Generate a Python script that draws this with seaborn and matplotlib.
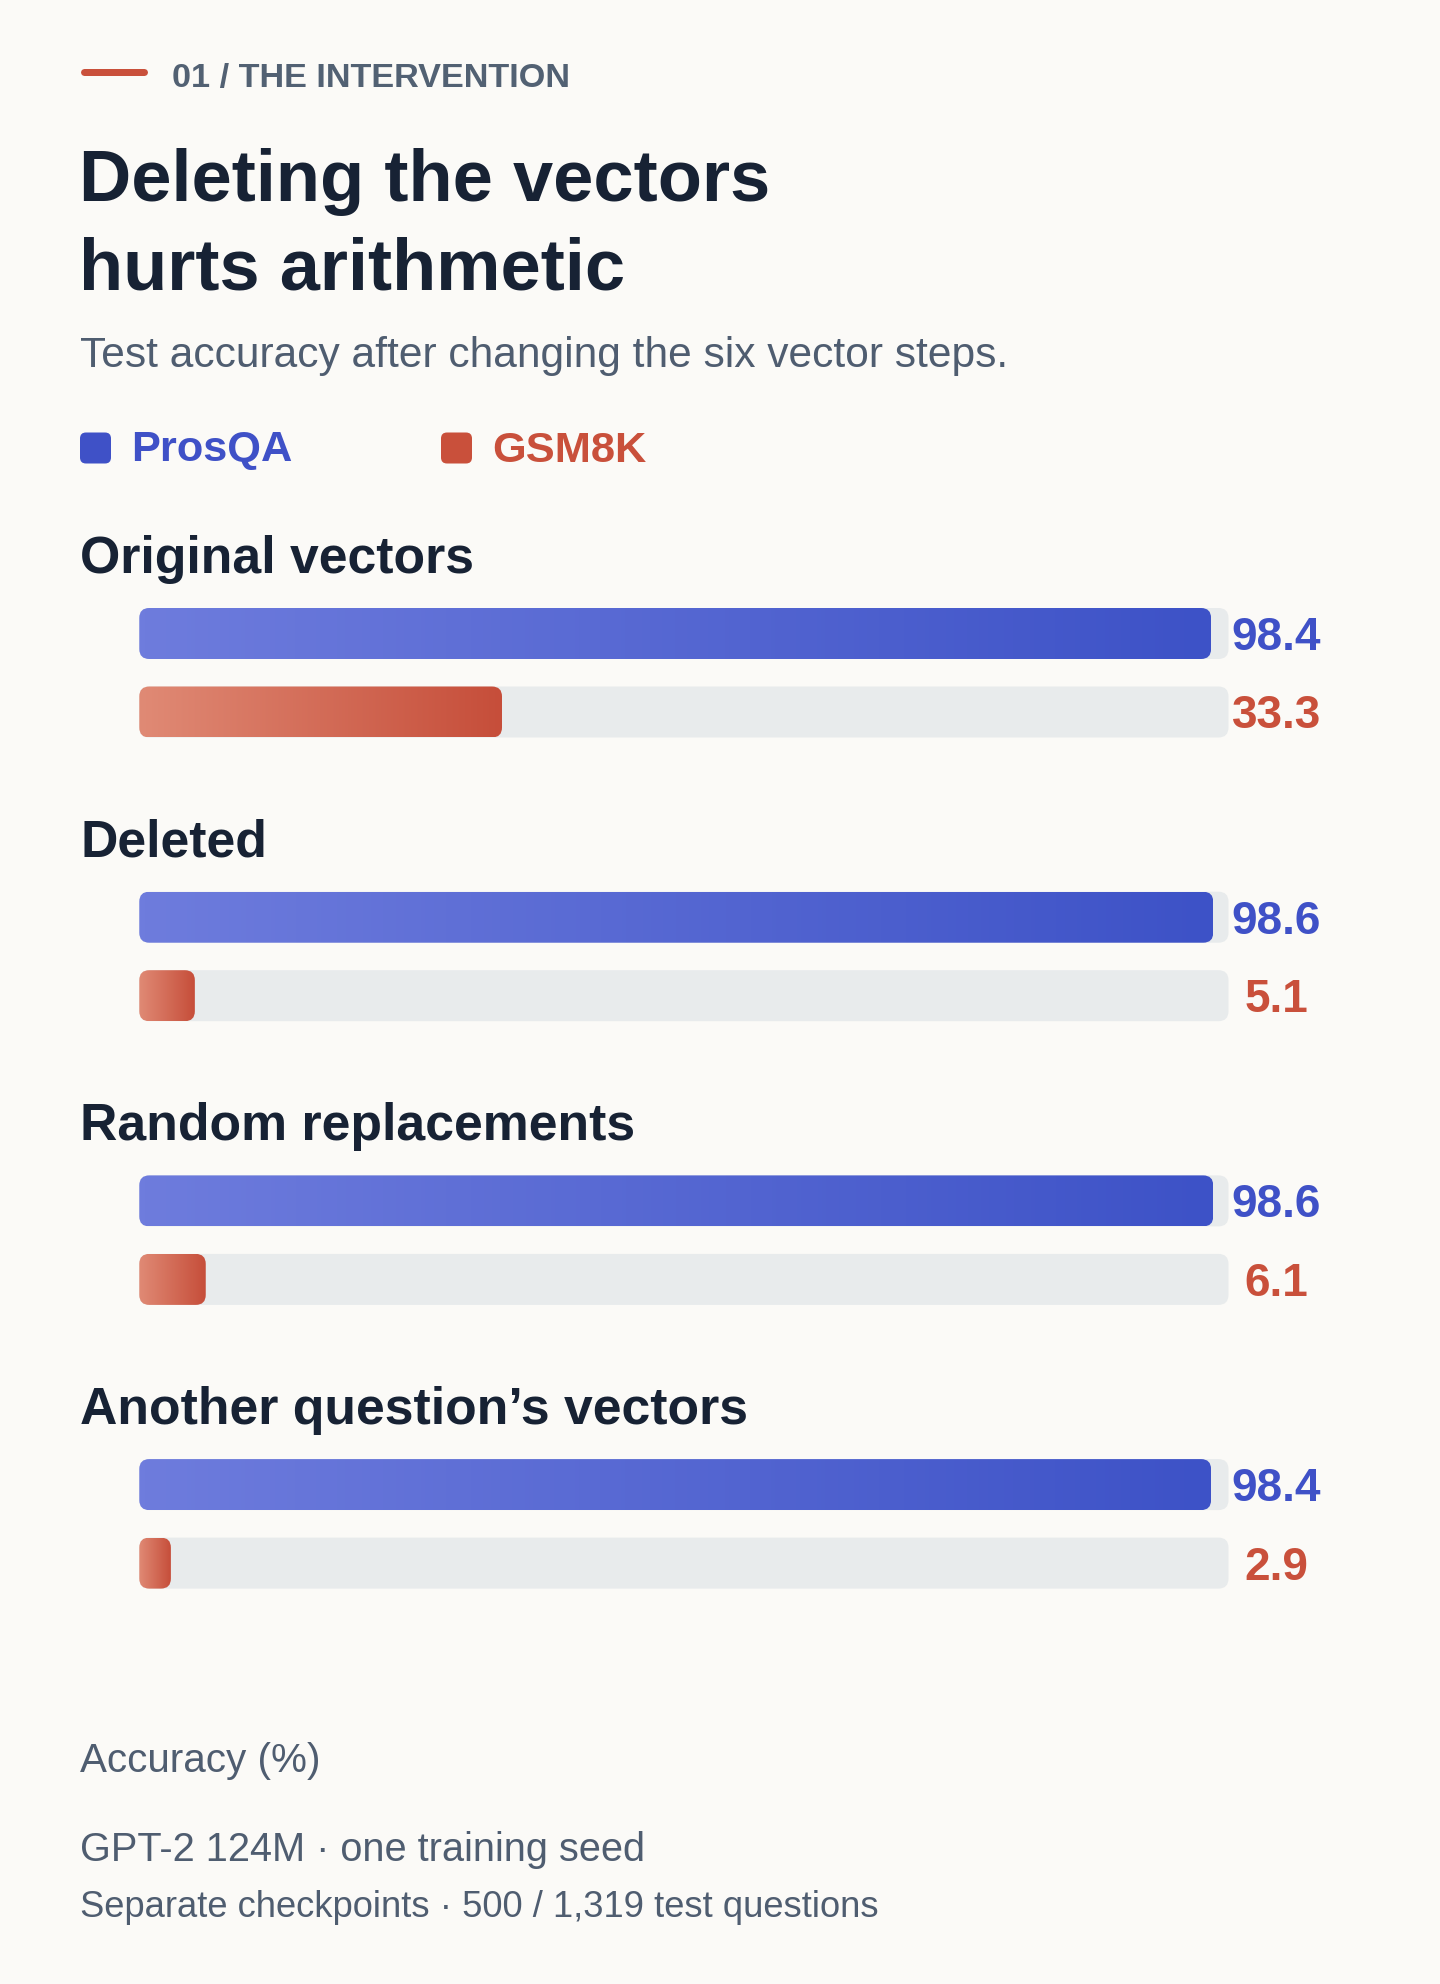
import numpy as np
import pandas as pd
import matplotlib
matplotlib.use("Agg")
import matplotlib.pyplot as plt
import seaborn as sns
from matplotlib.patches import FancyBboxPatch
from matplotlib.lines import Line2D
from matplotlib.transforms import Affine2D
from matplotlib.colors import LinearSegmentedColormap

# ---------------- data ----------------
conditions = ["Original vectors", "Deleted", "Random replacements", "Another question’s vectors"]
series = ["ProsQA", "GSM8K"]
prosqa = [98.4, 98.6, 98.6, 98.4]
gsm8k = [33.3, 5.1, 6.1, 2.9]
axis_max = 100

eyebrow = "01 / THE INTERVENTION"
title_lines = ["Deleting the vectors", "hurts arithmetic"]
subtitle = "Test accuracy after changing the six vector steps."
axis_label = "Accuracy (%)"
note1 = "GPT-2 124M · one training seed"
note2 = "Separate checkpoints · 500 / 1,319 test questions"

# ---------------- style ----------------
W, H = 1440, 1984
BG = "#fbfaf7"
DARK = "#172234"
GRAY = "#4f5d70"
EYEBROW = "#526173"
TRACK = "#e8ebec"
BLUE = "#3f51c7"
RED = "#c9503b"
blue_cmap = LinearSegmentedColormap.from_list("b", ["#6e7cdd", "#3d52c7"])
red_cmap = LinearSegmentedColormap.from_list("r", ["#e08a75", "#c64e3a"])
cmaps = {"ProsQA": blue_cmap, "GSM8K": red_cmap}
label_colors = {"ProsQA": BLUE, "GSM8K": RED}

sns.set_theme(style="white")
plt.rcParams["font.family"] = ["Liberation Sans", "DejaVu Sans"]

fig = plt.figure(figsize=(W / 100, H / 100), dpi=100, facecolor=BG)
T = Affine2D().scale(1, -1).translate(0, H)  # top-down pixel coords


def ftext(x, y, s, size, color, weight="normal", **kw):
    fig.text(x, y, s, transform=T, fontsize=size, color=color,
             fontweight=weight, va="baseline", ha=kw.pop("ha", "left"), **kw)


# eyebrow
fig.add_artist(Line2D([83.5, 144.2], [71.7, 71.7], transform=T, color=RED,
                      linewidth=7 * 0.72, solid_capstyle="round"))
ftext(172, 86.7, eyebrow, 24.7, EYEBROW, "bold")

# title / subtitle
ftext(79, 201, title_lines[0], 52, DARK, "bold")
ftext(79, 290, title_lines[1], 52, DARK, "bold")
ftext(80, 367, subtitle, 30.6, GRAY)

# legend
leg_x = [80, 441]
for lx, name in zip(leg_x, series):
    sq = FancyBboxPatch((lx, 432.5), 31, 31, boxstyle="round,pad=0,rounding_size=6",
                        transform=T, fc=label_colors[name], ec="none")
    fig.add_artist(sq)
    ftext(lx + 51.5, 461.5, name, 31.2, label_colors[name], "bold")

# ---------------- bars ----------------
X0, X1 = 139.3, 1228.5
STEP = 78.5
GROUP = 283.7
BAR_W = 51 / STEP
px_per_x = (X1 - X0) / axis_max
r_x = 10 / px_per_x
asp = px_per_x / STEP
LABEL_X = (1276.5 - X0) / px_per_x
VAL_FS = 33

for k, cond in enumerate(conditions):
    c1 = 633.5 + k * GROUP
    top = c1 - STEP / 2
    hgt = 2 * STEP
    # group label
    ftext(80, 572.7 + k * GROUP, cond, 37.3, DARK, "bold")

    ax = fig.add_axes([X0 / W, 1 - (top + hgt) / H, (X1 - X0) / W, hgt / H])
    ax.set_facecolor("none")
    df = pd.DataFrame({"series": series, "value": [prosqa[k], gsm8k[k]],
                       "track": [axis_max, axis_max]})
    sns.barplot(data=df, x="track", y="series", color=TRACK, width=BAR_W,
                orient="h", ax=ax, saturation=1)
    n_track = len(ax.patches)
    sns.barplot(data=df, x="value", y="series", color=BLUE, width=BAR_W,
                orient="h", ax=ax, saturation=1)
    patches = list(ax.patches)
    for i, p in enumerate(patches):
        x0, y0, w, h = p.get_x(), p.get_y(), p.get_width(), p.get_height()
        p.set_visible(False)
        box = FancyBboxPatch((x0, y0), w, h,
                             boxstyle=f"round,pad=0,rounding_size={r_x}",
                             mutation_aspect=asp, ec="none",
                             fc=TRACK if i < n_track else "none",
                             zorder=1 if i < n_track else 2)
        ax.add_patch(box)
        if i >= n_track:
            idx = int(round(y0 + h / 2))
            name = series[idx]
            grad = np.linspace(0, 1, 256).reshape(1, -1)
            im = ax.imshow(grad, cmap=cmaps[name], extent=(x0, x0 + w, y0 + h, y0),
                           aspect="auto", interpolation="bilinear", zorder=3)
            im.set_clip_path(box)
            ax.annotate(f"{w:.1f}", xy=(LABEL_X, idx), xycoords="data",
                        xytext=(0, -VAL_FS * 0.716 / 2), textcoords="offset points",
                        ha="center", va="baseline", fontsize=VAL_FS,
                        fontweight="bold", color=label_colors[name],
                        annotation_clip=False)
    ax.set_xlim(0, axis_max)
    ax.set_ylim(1.5, -0.5)
    ax.set_axis_off()

# ---------------- footer ----------------
ftext(80, 1772.3, axis_label, 29.1, GRAY)
ftext(80, 1860.7, note1, 28.6, GRAY)
ftext(80, 1917.3, note2, 26.2, GRAY)

fig.savefig("out.png", dpi=100, facecolor=BG)
